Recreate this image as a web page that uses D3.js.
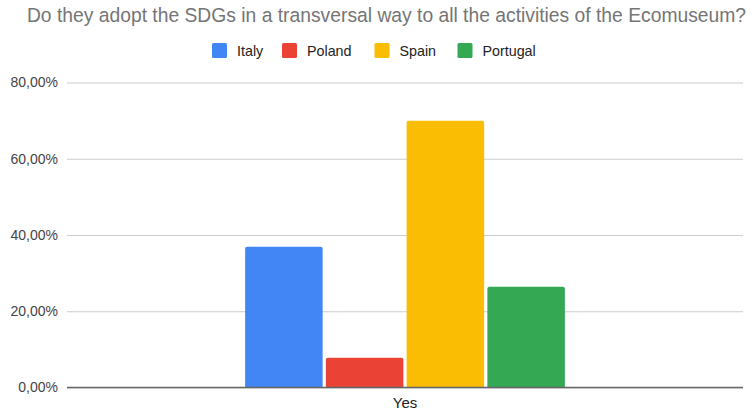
<!DOCTYPE html>
<html>
<head>
<meta charset="utf-8">
<script src="https://cdn.jsdelivr.net/npm/d3@7"></script>
<style>
  html, body { margin: 0; padding: 0; background: #fff; }
  svg { display: block; font-family: "Liberation Sans", Arial, sans-serif; }
</style>
</head>
<body>
<svg id="chart" width="754" height="413"></svg>
<script>
// Survey answers per country (share answering "Yes")
const categories = ["Yes"];
const countries = ["Italy", "Poland", "Spain", "Portugal"];
const values = [36.9, 7.8, 70.0, 26.4];
const colors = ["#4285f4", "#ea4335", "#fbbc04", "#34a853"];
const yTicks = [0, 20, 40, 60, 80];
const titleText = "Do they adopt the SDGs in a transversal way to all the activities of the Ecomuseum?";

const W = 754, H = 413;
const margin = { top: 82.5, right: 11, bottom: 25.5, left: 67 };
const svg = d3.select("#chart");

const x0 = d3.scaleBand()
  .domain(categories)
  .range([margin.left, W - margin.right])
  .paddingInner(0)
  .paddingOuter(0.557);

const x1 = d3.scaleBand()
  .domain(countries)
  .range([0, x0.bandwidth()])
  .paddingInner(0.04);

const y = d3.scaleLinear()
  .domain([0, 80])
  .range([H - margin.bottom, margin.top]);

const fmt = v => d3.format(".2f")(v).replace(".", ",") + "%";

// Title
svg.append("text")
  .attr("x", 386.5)
  .attr("y", 22)
  .attr("text-anchor", "middle")
  .attr("fill", "#757575")
  .style("font-size", "19.3px")
  .text(titleText);

// Legend
const legendX = [212, 282, 374.5, 457.5];
const legend = svg.append("g");
countries.forEach((c, i) => {
  const g = legend.append("g").attr("transform", `translate(${legendX[i]},43)`);
  g.append("rect").attr("width", 15).attr("height", 15).attr("rx", 1.5).attr("fill", colors[i]);
  g.append("text").attr("x", 25).attr("y", 12.5)
    .attr("fill", "#222").style("font-size", "14.3px").text(c);
});

// Gridlines and y labels
const yAxis = d3.axisLeft(y).tickValues(yTicks).tickSize(-(W - margin.left - margin.right)).tickFormat(fmt);
const ga = svg.append("g").attr("transform", `translate(${margin.left},0)`).call(yAxis);
ga.select(".domain").remove();
ga.selectAll(".tick line").attr("stroke", "#cccccc").attr("stroke-width", 1);
ga.selectAll(".tick text")
  .attr("x", -9)
  .attr("fill", "#444")
  .style("font-size", "14px")
  .style("font-family", "'Liberation Sans', Arial, sans-serif");

// Bars
const grp = svg.append("g");
categories.forEach(cat => {
  countries.forEach((c, i) => {
    const v = values[i];
    const bx = x0(cat) + x1(c), bw = x1.bandwidth();
    const top = y(v), bottom = y(0);
    const r = 2;
    grp.append("path")
      .attr("fill", colors[i])
      .attr("d", `M${bx},${bottom}V${top + r}Q${bx},${top} ${bx + r},${top}H${bx + bw - r}Q${bx + bw},${top} ${bx + bw},${top + r}V${bottom}Z`);
  });
});

// Baseline
svg.append("line")
  .attr("x1", margin.left).attr("x2", W - margin.right)
  .attr("y1", y(0)).attr("y2", y(0))
  .attr("stroke", "#666").attr("stroke-width", 1.5);

// X axis label
const xAxis = d3.axisBottom(x0).tickSize(0).tickPadding(9.5);
const gx = svg.append("g").attr("transform", `translate(0,${y(0)})`).call(xAxis);
gx.select(".domain").remove();
gx.selectAll(".tick text")
  .attr("fill", "#222")
  .style("font-size", "15px")
  .style("font-family", "'Liberation Sans', Arial, sans-serif");
</script>
</body>
</html>
